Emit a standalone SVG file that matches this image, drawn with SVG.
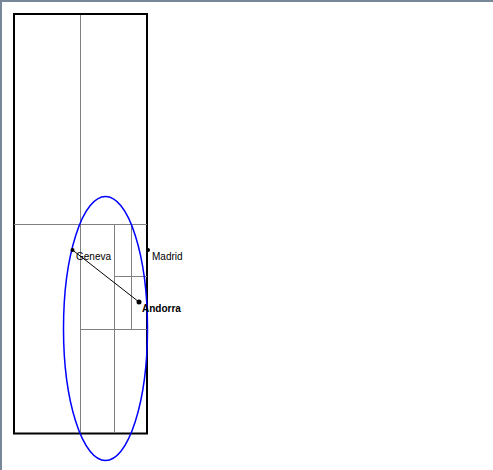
<svg xmlns="http://www.w3.org/2000/svg" width="493" height="470" viewBox="0 0 493 470">
<style>
.grid{stroke:#808080;stroke-width:1;fill:none}
.lbl{font-family:"Liberation Sans",Arial,sans-serif;font-size:10px;fill:#000}
.bold{font-weight:bold}
.dot{fill:#000}
</style>
<rect width="493" height="470" fill="#fff"/>
<rect x="0" y="0" width="493" height="2" fill="#778899"/>
<rect x="0" y="0" width="2" height="470" fill="#778899"/>
<g id="frame">
<rect x="14" y="14" width="133" height="419.5" fill="none" stroke="#000" stroke-width="2"/>
</g>
<g id="grid" class="grid">
<line x1="80.5" y1="15" x2="80.5" y2="433"/>
<line x1="14" y1="224.5" x2="147" y2="224.5"/>
<line x1="114.5" y1="224.5" x2="114.5" y2="433"/>
<line x1="131.5" y1="224.5" x2="131.5" y2="329.5"/>
<line x1="114.5" y1="276.5" x2="147" y2="276.5"/>
<line x1="80.5" y1="329.5" x2="147" y2="329.5"/>
</g>
<g id="region">
<ellipse cx="105.5" cy="328.5" rx="42" ry="132" fill="none" stroke="#0000ff" stroke-width="1.5"/>
</g>
<g id="connectors">
<line x1="72.5" y1="250" x2="139" y2="302" stroke="#000" stroke-width="1"/>
</g>
<g id="geneva">
<circle class="dot" cx="72.5" cy="250" r="2"/>
<text class="lbl" x="76" y="260">Geneva</text>
</g>
<g id="madrid">
<circle class="dot" cx="148" cy="250" r="2"/>
<text class="lbl" x="152" y="260">Madrid</text>
</g>
<g id="andorra">
<circle class="dot" cx="139" cy="302" r="2.5"/>
<text class="lbl bold" x="142" y="312">Andorra</text>
</g>
</svg>
